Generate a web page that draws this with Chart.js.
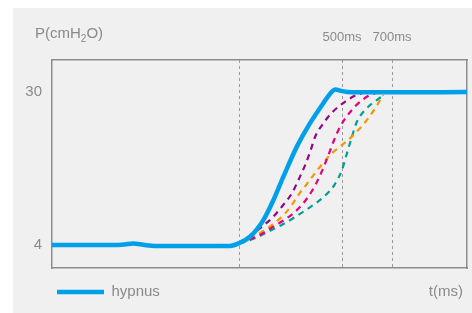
<!DOCTYPE html>
<html>
<head>
<meta charset="utf-8">
<script src="https://cdn.jsdelivr.net/npm/chart.js@4"></script>
<style>
    body { margin: 0; background: #ffffff; }
    #box { position: absolute; left: 13px; top: 8px; width: 459px; height: 305px; background: #f0f0f0; }
</style>
</head>
<body>
<div id="box"><canvas id="pressureChart" width="459" height="305"></canvas></div>
<script>
// tempo (ms) e pressão (cmH2O)
const hypnusT = [-660, -410, -370, -335, -295, -250, 45, 89, 133, 186, 226, 266, 320, 373, 426, 455, 473, 500, 540, 693, 1000];
const hypnusP = [4.0, 4.0, 4.1, 4.27, 4.05, 3.83, 3.83, 4.34, 5.46, 8.3, 11.7, 15.7, 20.8, 24.8, 28.2, 29.9, 30.5, 30.2, 30.0, 30.0, 30.05];

const purpleT = [89, 133, 173, 220, 260, 300, 326, 353, 373, 393, 426, 464, 513, 560, 578];
const purpleP = [4.3, 5.46, 6.89, 8.59, 10.57, 12.85, 15.11, 17.66, 19.93, 22.48, 24.76, 26.73, 28.43, 29.57, 29.8];

const magentaT = [89, 127, 173, 226, 276, 324, 364, 396, 422, 446, 466, 493, 526, 566, 613, 633];
const magentaP = [4.3, 4.9, 5.75, 7.16, 8.48, 10.13, 12.17, 14.43, 16.81, 19.36, 21.63, 24.18, 26.29, 28.16, 29.57, 29.86];

const orangeT = [89, 146, 193, 233, 270, 300, 326, 360, 390, 422, 453, 493, 533, 566, 600, 633, 653, 665];
const orangeP = [4.3, 5.46, 6.6, 7.85, 9.27, 10.86, 12.56, 14.43, 16.13, 17.83, 19.36, 20.78, 22.21, 23.62, 25.32, 27.31, 28.72, 29.57];

const tealT = [89, 113, 153, 206, 260, 316, 373, 426, 470, 500, 520, 540, 560, 593, 646, 665];
const tealP = [4.3, 4.61, 5.19, 6.31, 7.45, 8.87, 10.47, 12.17, 14.26, 16.81, 19.65, 22.48, 25.03, 27.02, 28.89, 29.4];

const yTicks = [4, 30];
const markTicks = [90, 500, 700];
const topTicks = [500, 700];

const textColor = '#8a8a8a';
const fontFamily = '"Liberation Sans", Arial, sans-serif';

const toPoints = (ts, ps) => ts.map((t, i) => ({ x: t, y: ps[i] }));

const dashed = (label, ts, ps, color) => ({
    label: label,
    data: toPoints(ts, ps),
    borderColor: color,
    borderWidth: 2.2,
    borderDash: [6, 5],
    pointRadius: 0,
    cubicInterpolationMode: 'monotone',
    fill: false
});

// textos extras: unidade do eixo y com subscrito e t(ms)
const extraText = {
    id: 'extraText',
    afterDraw(chart) {
        const ctx = chart.ctx;
        ctx.save();
        ctx.fillStyle = textColor;
        ctx.textBaseline = 'middle';
        ctx.textAlign = 'left';
        let x = 22;
        const y = 26;
        ctx.font = '15px ' + fontFamily;
        ctx.fillText('P(cmH', x, y);
        x += ctx.measureText('P(cmH').width;
        ctx.font = '10px ' + fontFamily;
        ctx.fillText('2', x, y + 5);
        x += ctx.measureText('2').width;
        ctx.font = '15px ' + fontFamily;
        ctx.fillText('O)', x, y);
        ctx.textAlign = 'right';
        ctx.fillText('t(ms)', chart.chartArea.right - 4, 284);
        ctx.restore();
    }
};

const ctx = document.getElementById('pressureChart').getContext('2d');
new Chart(ctx, {
    type: 'line',
    data: {
        datasets: [
            {
                label: 'hypnus',
                data: toPoints(hypnusT, hypnusP),
                borderColor: '#00a0e9',
                borderWidth: 4.5,
                pointRadius: 0,
                cubicInterpolationMode: 'monotone',
                fill: false
            },
            dashed('a', purpleT, purpleP, '#920783'),
            dashed('b', magentaT, magentaP, '#e4007f'),
            dashed('c', orangeT, orangeP, '#f39800'),
            dashed('d', tealT, tealP, '#009e96')
        ]
    },
    options: {
        responsive: false,
        animation: false,
        layout: { padding: { left: 0, right: 0, top: 0, bottom: 3.5 } },
        plugins: {
            tooltip: { enabled: false },
            legend: {
                position: 'bottom',
                align: 'start',
                fullSize: false,
                labels: {
                    filter: (item) => item.datasetIndex === 0,
                    usePointStyle: true,
                    pointStyle: 'line',
                    pointStyleWidth: 47,
                    padding: 5,
                    color: textColor,
                    font: { family: fontFamily, size: 15 }
                }
            }
        },
        scales: {
            x: {
                type: 'linear',
                position: 'bottom',
                min: -660,
                max: 1000,
                afterBuildTicks: (s) => { s.ticks = markTicks.map(v => ({ value: v })); },
                afterFit: (s) => { s.height = 11.5; },
                ticks: { display: false },
                grid: { color: '#9a9a9a', lineWidth: 1, drawTicks: false },
                border: { color: '#8c8c8c', width: 1.5, dash: [3, 3] }
            },
            x2: {
                type: 'linear',
                position: 'top',
                min: -660,
                max: 1000,
                afterBuildTicks: (s) => { s.ticks = topTicks.map(v => ({ value: v })); },
                afterFit: (s) => { s.height = 52; },
                ticks: {
                    padding: 15,
                    maxRotation: 0,
                    color: textColor,
                    font: { family: fontFamily, size: 13 },
                    callback: (v) => v + 'ms'
                },
                grid: { display: false, drawTicks: false },
                border: { color: '#8c8c8c', width: 1.5 }
            },
            y: {
                min: 0.1,
                max: 35.5,
                afterBuildTicks: (s) => { s.ticks = yTicks.map(v => ({ value: v })); },
                afterFit: (s) => { s.width = 39; },
                ticks: {
                    padding: 10,
                    color: textColor,
                    font: { family: fontFamily, size: 15 }
                },
                grid: { display: false, drawTicks: false },
                border: { color: '#8c8c8c', width: 1.5 }
            },
            y2: {
                position: 'right',
                min: 0.1,
                max: 35.5,
                afterFit: (s) => { s.width = 5; },
                ticks: { display: false },
                grid: { display: false, drawTicks: false },
                border: { color: '#8c8c8c', width: 1.5 }
            }
        }
    },
    plugins: [extraText]
});
</script>
</body>
</html>
